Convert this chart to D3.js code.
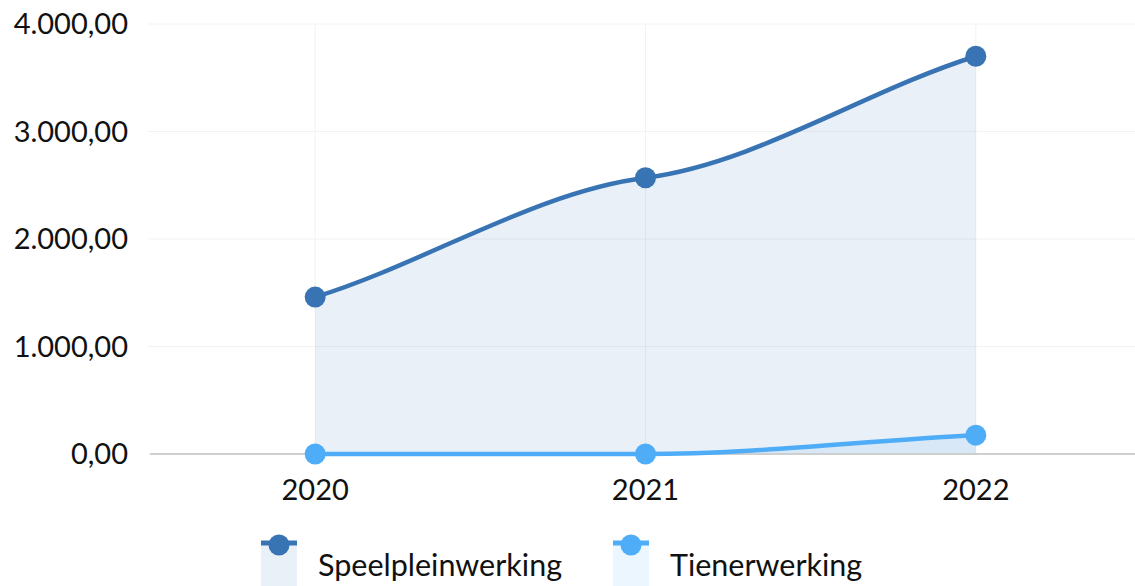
<!DOCTYPE html>
<html>
<head>
<meta charset="utf-8">
<script src="https://cdn.jsdelivr.net/npm/d3@7"></script>
<style>
  body { margin: 0; background: #fff; }
  svg { font-family: Lato, "Open Sans", sans-serif; }
</style>
</head>
<body>
<svg id="chart" width="1135" height="586"></svg>
<script>
// data
var years = ["2020", "2021", "2022"];
var seriesNames = ["Speelpleinwerking", "Tienerwerking"];
var speelplein = [1460, 2570, 3700];
var tiener = [0, 0, 175];
var yTicks = [0, 1000, 2000, 3000, 4000];
var colors = ["#3874b3", "#4fadf7"];

var svg = d3.select("#chart");
var margin = {top: 24, right: -6, bottom: 132, left: 150};
var width = 1135 - margin.left - margin.right;
var height = 586 - margin.top - margin.bottom;

var g = svg.append("g")
    .attr("transform", "translate(" + margin.left + "," + margin.top + ")");

var x = d3.scalePoint()
    .domain(years)
    .range([0, width])
    .padding(0.5);

var y = d3.scaleLinear()
    .domain([0, 4000])
    .range([height, 0]);

// nl number format 1.000,00
var nl = d3.formatLocale({decimal: ",", thousands: ".", grouping: [3], currency: ["€", ""]});
var fmt = nl.format(",.2f");

// soft spline: flat-ish tangents at inner points, like the original chart
function SoftCurve(context) { this._context = context; }
SoftCurve.prototype = {
    areaStart: function() { this._line = 0; },
    areaEnd: function() { this._line = NaN; },
    lineStart: function() { this._xs = []; this._ys = []; },
    point: function(px, py) { this._xs.push(+px); this._ys.push(+py); },
    lineEnd: function() {
        var xs = this._xs, ys = this._ys, n = xs.length, c = this._context;
        if (n) {
            if (this._line) c.lineTo(xs[0], ys[0]); else c.moveTo(xs[0], ys[0]);
            var s = [], m = [], i;
            for (i = 0; i < n - 1; i++) s.push((ys[i + 1] - ys[i]) / (xs[i + 1] - xs[i] || 1));
            for (i = 0; i < n; i++) {
                if (i === 0) m.push(n > 1 ? 0.85 * s[0] : 0);
                else if (i === n - 1) m.push(0.85 * s[i - 1]);
                else if (s[i - 1] * s[i] <= 0) m.push(0);
                else m.push(0.35 * (s[i - 1] + s[i]) / 2);
            }
            if (n > 1 && s[0] === 0) m[0] = 0;
            for (i = 0; i < n - 1; i++) {
                var h = (xs[i + 1] - xs[i]) / 3;
                c.bezierCurveTo(xs[i] + h, ys[i] + m[i] * h,
                    xs[i + 1] - h, ys[i + 1] - m[i + 1] * h,
                    xs[i + 1], ys[i + 1]);
            }
        }
        if (this._line || (this._line !== 0 && n === 1)) c.closePath();
        this._line = 1 - this._line;
    }
};
function curveSoft(context) { return new SoftCurve(context); }

// horizontal grid
g.selectAll(".hgrid")
    .data(yTicks)
    .enter().append("line")
    .attr("x1", -2)
    .attr("x2", width)
    .attr("y1", function(d) { return y(d); })
    .attr("y2", function(d) { return y(d); })
    .attr("stroke", "#f2f2f2")
    .attr("stroke-width", 1);

// vertical grid
g.selectAll(".vgrid")
    .data(years)
    .enter().append("line")
    .attr("x1", function(d) { return x(d); })
    .attr("x2", function(d) { return x(d); })
    .attr("y1", 0)
    .attr("y2", height)
    .attr("stroke", "#f2f2f2")
    .attr("stroke-width", 1);

// y labels
g.selectAll(".ylab")
    .data(yTicks)
    .enter().append("text")
    .attr("x", -22)
    .attr("y", function(d) { return y(d); })
    .attr("dy", "0.35em")
    .attr("text-anchor", "end")
    .style("font-size", "29px")
    .attr("fill", "#111")
    .text(function(d) { return fmt(d); });

// x labels
g.selectAll(".xlab")
    .data(years)
    .enter().append("text")
    .attr("x", function(d) { return x(d); })
    .attr("y", height + 46)
    .attr("text-anchor", "middle")
    .style("font-size", "29px")
    .attr("fill", "#111")
    .text(function(d) { return d; });

var allSeries = [speelplein, tiener];

var area = d3.area()
    .x(function(d, i) { return x(years[i]); })
    .y0(y(0))
    .y1(function(d) { return y(d); })
    .curve(curveSoft);

var line = d3.line()
    .x(function(d, i) { return x(years[i]); })
    .y(function(d) { return y(d); })
    .curve(curveSoft);

allSeries.forEach(function(vals, s) {
    g.append("path")
        .attr("d", area(vals))
        .attr("fill", colors[s])
        .attr("fill-opacity", 0.11);
});

// baseline
g.append("line")
    .attr("x1", 0)
    .attr("x2", width)
    .attr("y1", height)
    .attr("y2", height)
    .attr("stroke", "#cfcfcf")
    .attr("stroke-width", 2);

allSeries.forEach(function(vals, s) {
    g.append("path")
        .attr("d", line(vals))
        .attr("fill", "none")
        .attr("stroke", colors[s])
        .attr("stroke-width", 4.5);

    g.selectAll(".dot" + s)
        .data(vals)
        .enter().append("circle")
        .attr("cx", function(d, i) { return x(years[i]); })
        .attr("cy", function(d) { return y(d); })
        .attr("r", 10.5)
        .attr("fill", colors[s]);
});

// legend
var legendX = [261, 613];
var legend = svg.selectAll(".legend")
    .data(seriesNames)
    .enter().append("g")
    .attr("transform", function(d, i) { return "translate(" + legendX[i] + ",542)"; });

legend.append("rect")
    .attr("x", 0)
    .attr("y", 0)
    .attr("width", 36)
    .attr("height", 44)
    .attr("fill", function(d, i) { return colors[i]; })
    .attr("fill-opacity", 0.11);

legend.append("line")
    .attr("x1", 0)
    .attr("x2", 36)
    .attr("y1", 1)
    .attr("y2", 1)
    .attr("stroke", function(d, i) { return colors[i]; })
    .attr("stroke-width", 5);

legend.append("circle")
    .attr("cx", 18)
    .attr("cy", 3)
    .attr("r", 10.5)
    .attr("fill", function(d, i) { return colors[i]; });

legend.append("text")
    .attr("x", 57)
    .attr("y", 23)
    .attr("dy", "0.35em")
    .style("font-size", "30.5px")
    .attr("fill", "#111")
    .text(function(d) { return d; });
</script>
</body>
</html>
